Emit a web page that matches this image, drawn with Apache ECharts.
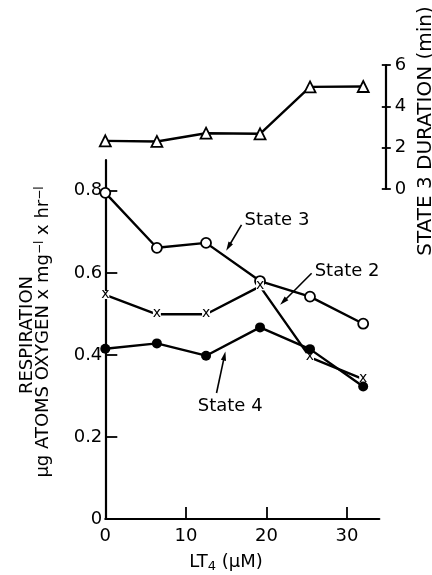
<!DOCTYPE html>
<html><head><meta charset="utf-8">
<script src="https://cdn.jsdelivr.net/npm/echarts@6/dist/echarts.min.js"></script>
<style>html,body{margin:0;padding:0;background:#fff}#c{width:432px;height:575px}</style>
</head><body><div id="c"></div>
<script>
// ---- data ----
const lt4 = [0, 6.4, 12.5, 19.2, 25.4, 32];            // LT4 (µM)
const state3 = [0.795, 0.661, 0.673, 0.580, 0.542, 0.476];
const state2 = [0.546, 0.499, 0.499, 0.567, 0.394, 0.341];
const state4 = [0.415, 0.428, 0.398, 0.467, 0.414, 0.323];
const state3Duration = [2.33, 2.30, 2.70, 2.67, 4.94, 4.96]; // min
const xTickLabels = [0, 10, 20, 30];
const yTickLabels = [0, 0.2, 0.4, 0.6, 0.8];
const durTickLabels = [0, 2, 4, 6];

const pairs = ys => lt4.map((x, i) => [x, ys[i]]);
const F = 'DejaVu Sans';
const K = '#000';

const chart = echarts.init(document.getElementById('c'));
const lineStyle = {color: K, width: 2.4};

const option = {
  animation: false,
  backgroundColor: '#fff',
  grid: [
    {left: 105.3, top: 160, width: 274, height: 359},
    {left: 105.3, top: 65, width: 280.5, height: 124}
  ],
  xAxis: [
    {gridIndex: 0, type: 'value', min: 0, max: 34,
     axisLine: {onZero: false, lineStyle: {color: K, width: 2.2}},
     axisTick: {inside: true, length: 12, customValues: [10, 20, 30], lineStyle: {color: K, width: 1.8}},
     axisLabel: {customValues: xTickLabels, margin: 8, color: K, fontFamily: F, fontSize: 18},
     splitLine: {show: false}},
    {gridIndex: 1, type: 'value', min: 0, max: 34.8, show: false, splitLine: {show: false}}
  ],
  yAxis: [
    {gridIndex: 0, type: 'value', min: 0, max: 0.875,
     axisLine: {show: true, onZero: false, lineStyle: {color: K, width: 2.2}},
     axisTick: {show: true, inside: true, length: 12, customValues: [0.2, 0.4, 0.6, 0.8], lineStyle: {color: K, width: 1.8}},
     axisLabel: {customValues: yTickLabels, margin: 3, color: K, fontFamily: F, fontSize: 18,
                 formatter: v => v === 0 ? '0' : v.toFixed(1)},
     splitLine: {show: false}},
    {gridIndex: 1, type: 'value', min: 0, max: 6, interval: 2, position: 'right',
     axisLine: {show: true, onZero: false, lineStyle: {color: K, width: 2.2}},
     axisTick: {show: true, inside: false, length: 5, lineStyle: {color: K, width: 1.8}},
     axisLabel: {customValues: durTickLabels, margin: 9, color: K, fontFamily: F, fontSize: 18},
     splitLine: {show: false}},
    {gridIndex: 1, type: 'value', min: 0, max: 6, interval: 2, position: 'left', offset: -280.5,
     axisLine: {show: false, onZero: false},
     axisTick: {show: true, inside: false, length: 4, lineStyle: {color: K, width: 1.8}},
     axisLabel: {show: false},
     splitLine: {show: false}}
  ],
  series: [
    {type: 'line', xAxisIndex: 1, yAxisIndex: 1, data: pairs(state3Duration),
     symbol: 'triangle', symbolSize: 11, showAllSymbol: true,
     lineStyle, itemStyle: {color: '#fff', borderColor: K, borderWidth: 1.8}, z: 3},
    {type: 'line', xAxisIndex: 0, yAxisIndex: 0, data: pairs(state3),
     symbol: 'circle', symbolSize: 10, showAllSymbol: true,
     lineStyle, itemStyle: {color: '#fff', borderColor: K, borderWidth: 1.8}, z: 3},
    {type: 'line', xAxisIndex: 0, yAxisIndex: 0, data: pairs(state2),
     symbol: 'rect', symbolSize: 8, showAllSymbol: true,
     lineStyle, itemStyle: {color: '#fff', borderWidth: 0},
     label: {show: true, position: 'inside', formatter: 'x', color: K, fontFamily: F, fontSize: 14, offset: [0, -1]}, z: 4},
    {type: 'line', xAxisIndex: 0, yAxisIndex: 0, data: pairs(state4),
     symbol: 'circle', symbolSize: 10, showAllSymbol: true,
     lineStyle, itemStyle: {color: K, borderColor: K, borderWidth: 0}, z: 5}
  ]
};
chart.setOption(option);

// ---- annotations (positions in data coordinates) ----
const notes = [
  {text: 'State 3', at: [21.3, 0.729], from: [16.9, 0.717], to: [15.0, 0.654]},
  {text: 'State 2', at: [30.0, 0.603], from: [25.6, 0.599], to: [21.7, 0.522]},
  {text: 'State 4', at: [15.5, 0.274], from: [13.8, 0.307], to: [14.9, 0.408]}
];
const g = [];
notes.forEach(n => {
  const p = chart.convertToPixel({gridIndex: 0}, n.at);
  const a = chart.convertToPixel({gridIndex: 0}, n.from);
  const b = chart.convertToPixel({gridIndex: 0}, n.to);
  g.push({type: 'text', x: p[0], y: p[1], z: 10,
          style: {text: n.text, fill: K, font: '18px "DejaVu Sans"', align: 'center', verticalAlign: 'middle'}});
  const dx = b[0] - a[0], dy = b[1] - a[1], L = Math.hypot(dx, dy);
  const ux = dx / L, uy = dy / L, nx = -uy, ny = ux, AL = 9, AW = 2.6;
  g.push({type: 'line', z: 10, shape: {x1: a[0], y1: a[1], x2: b[0] - ux * AL * 0.6, y2: b[1] - uy * AL * 0.6},
          style: {stroke: K, lineWidth: 1.6}});
  g.push({type: 'polygon', z: 10, shape: {points: [
          [b[0], b[1]],
          [b[0] - ux * AL + nx * AW, b[1] - uy * AL + ny * AW],
          [b[0] - ux * AL - nx * AW, b[1] - uy * AL - ny * AW]]},
          style: {fill: K}});
});
// axis titles
g.push({type: 'text', x: 27, y: 335, rotation: Math.PI / 2,
        style: {text: 'RESPIRATION', fill: K, font: '18px "DejaVu Sans"', align: 'center', verticalAlign: 'middle'}});
g.push({type: 'text', x: 45, y: 332, rotation: Math.PI / 2,
        style: {text: '{n|μg ATOMS OXYGEN x mg}{s|−l}{n| x hr}{s|−l}', align: 'center', verticalAlign: 'middle',
                rich: {n: {fontFamily: F, fontSize: 18, fill: K, lineHeight: 22, verticalAlign: 'top'},
                       s: {fontFamily: F, fontSize: 12, fill: K, lineHeight: 8, verticalAlign: 'top'}}}});
g.push({type: 'text', x: 426, y: 131, rotation: Math.PI / 2,
        style: {text: 'STATE 3 DURATION (min)', fill: K, font: '20px "DejaVu Sans"', align: 'center', verticalAlign: 'middle'}});
g.push({type: 'text', x: 226, y: 563,
        style: {text: '{n|LT}{s|4}{n| (μM)}', align: 'center', verticalAlign: 'middle',
                rich: {n: {fontFamily: F, fontSize: 18, fill: K, lineHeight: 20, verticalAlign: 'top'},
                       s: {fontFamily: F, fontSize: 13, fill: K, lineHeight: 8, verticalAlign: 'bottom'}}}});
chart.setOption({graphic: g});
</script>
</body></html>
